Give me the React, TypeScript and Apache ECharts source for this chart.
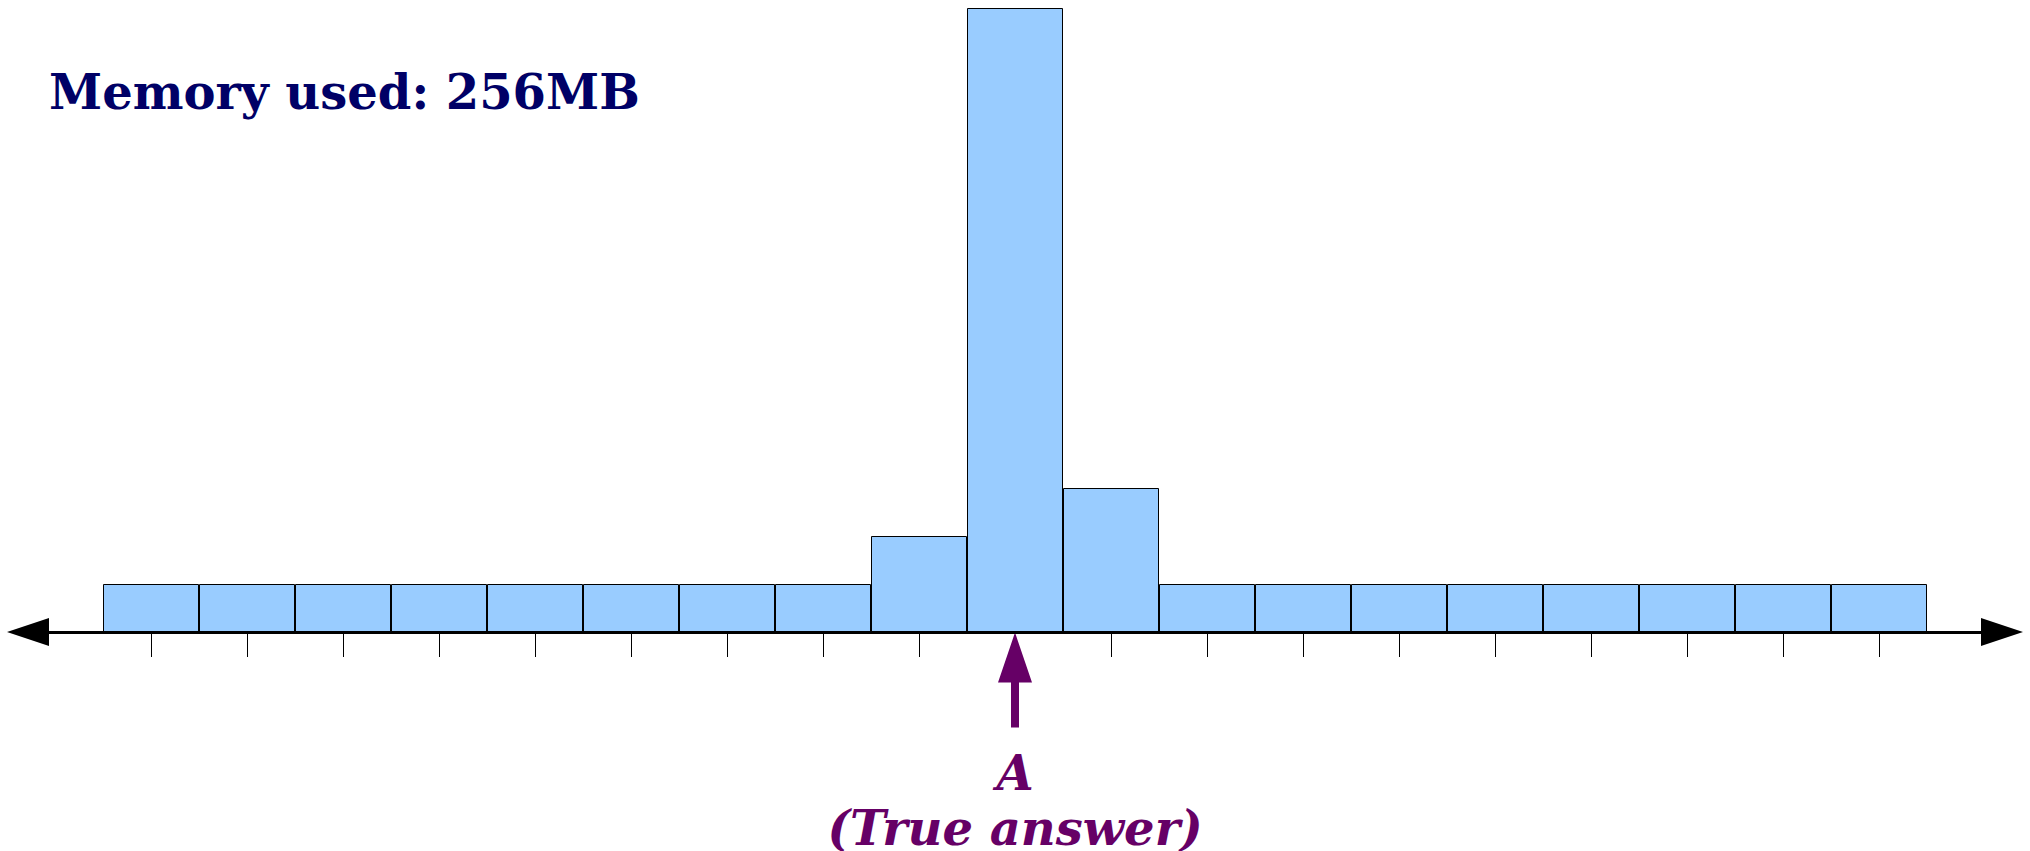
import React, { useEffect, useRef } from "react";
import * as echarts from "echarts";

const bins = ["1", "2", "3", "4", "5", "6", "7", "8", "9", "10", "11", "12", "13", "14", "15", "16", "17", "18", "19"];
const counts = [1, 1, 1, 1, 1, 1, 1, 1, 2, 13, 3, 1, 1, 1, 1, 1, 1, 1, 1];
const trueAnswerIndex = 9;
const titleText = "Memory used: 256MB";
const answerText = "A\n(True answer)";

const arrowPath = "path://M17,0 L34,50 L21,50 L21,95 L13,95 L13,50 L0,50 Z";

export default function App() {
  const ref = useRef<HTMLDivElement>(null);
  useEffect(() => {
    if (!ref.current) return;
    const chart = echarts.init(ref.current, null, { renderer: "svg" });
    chart.setOption({
      animation: false,
      backgroundColor: "#ffffff",
      title: {
        text: titleText,
        left: 44,
        top: 63,
        textStyle: {
          fontFamily: "DejaVu Serif",
          fontWeight: "bold",
          fontSize: 48,
          color: "#000066",
        },
      },
      grid: [
        { left: 103, right: 103, top: 8, bottom: 219 },
        { left: 28, right: 28, top: 8, bottom: 219 },
      ],
      xAxis: [
        {
          type: "category",
          gridIndex: 0,
          data: bins,
          boundaryGap: true,
          axisLine: { show: false },
          axisTick: {
            show: true,
            alignWithLabel: true,
            inside: false,
            length: 25,
            interval: (index: number) => index !== trueAnswerIndex,
            lineStyle: { color: "#000", width: 1 },
          },
          axisLabel: { show: false },
          splitLine: { show: false },
        },
        {
          type: "value",
          gridIndex: 1,
          min: 0,
          max: 1,
          z: 5,
          axisLine: {
            show: true,
            symbol: ["triangle", "triangle"],
            symbolSize: [28, 42],
            lineStyle: { color: "#000", width: 3 },
          },
          axisTick: { show: false },
          axisLabel: { show: false },
          splitLine: { show: false },
        },
      ],
      yAxis: [
        { type: "value", gridIndex: 0, min: 0, max: 13, show: false },
        { type: "value", gridIndex: 1, min: 0, max: 1, show: false },
      ],
      series: [
        {
          type: "bar",
          xAxisIndex: 0,
          yAxisIndex: 0,
          data: counts,
          barCategoryGap: "0%",
          itemStyle: { color: "#99ccff", borderColor: "#000", borderWidth: 1 },
          markPoint: {
            symbol: arrowPath,
            symbolSize: [34, 95],
            symbolOffset: [0, 48],
            itemStyle: { color: "#660066" },
            label: {
              show: true,
              position: "bottom",
              distance: 18,
              formatter: answerText,
              fontFamily: "DejaVu Serif",
              fontWeight: "bold",
              fontStyle: "italic",
              fontSize: 48,
              lineHeight: 55,
              color: "#660066",
              align: "center",
            },
            data: [{ coord: [trueAnswerIndex, 0] }],
          },
        },
      ],
    });
    return () => chart.dispose();
  }, []);
  return (
    <div
      ref={ref}
      style={{ position: "absolute", left: 0, top: 0, width: 2030, height: 851 }}
    />
  );
}
